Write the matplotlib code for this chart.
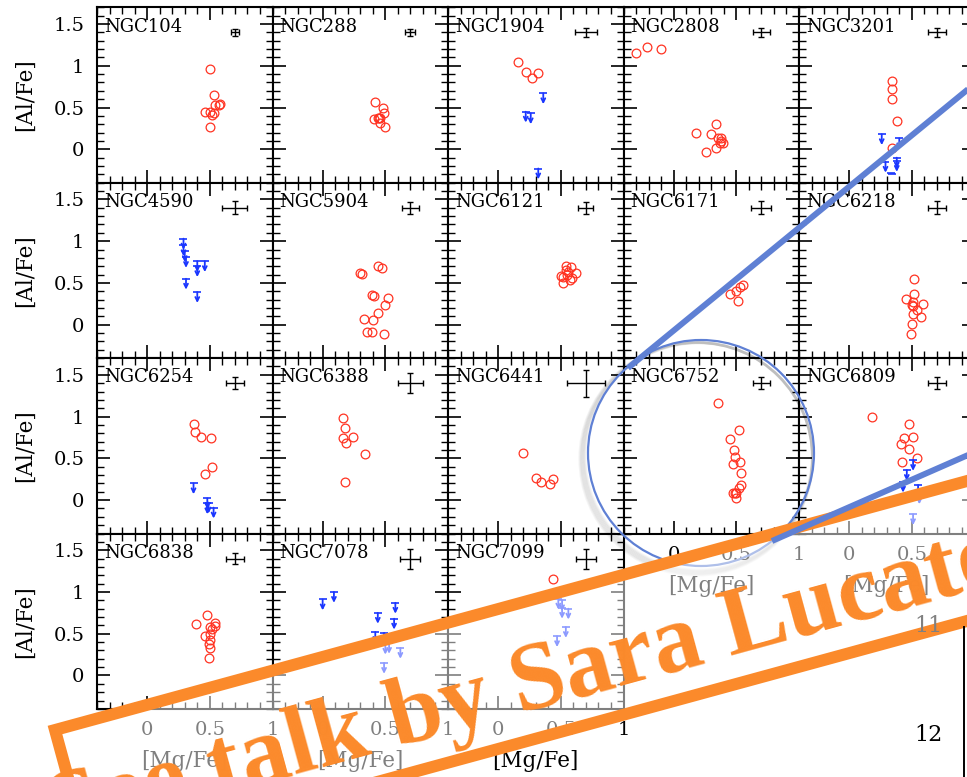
import numpy as np
import matplotlib.pyplot as plt
from matplotlib.patches import Circle, Polygon
from matplotlib.lines import Line2D
from matplotlib.transforms import Affine2D
from matplotlib.ticker import MultipleLocator, FuncFormatter

# === DATA ===
clusters = ["NGC104", "NGC288", "NGC1904", "NGC2808", "NGC3201",
            "NGC4590", "NGC5904", "NGC6121", "NGC6171", "NGC6218",
            "NGC6254", "NGC6388", "NGC6441", "NGC6752", "NGC6809",
            "NGC6838", "NGC7078", "NGC7099"]

# detections: [Mg/Fe], [Al/Fe]
mg_det = [
    [0.50, 0.53, 0.46, 0.50, 0.53, 0.54, 0.57, 0.58, 0.52, 0.50],
    [0.42, 0.48, 0.49, 0.41, 0.44, 0.46, 0.46, 0.50, 0.45],
    [0.16, 0.22, 0.27, 0.32],
    [-0.30, -0.21, -0.10, 0.18, 0.30, 0.34, 0.35, 0.38, 0.39, 0.38, 0.34, 0.26, 0.37],
    [0.34, 0.34, 0.34, 0.38, 0.34],
    [],
    [0.31, 0.30, 0.44, 0.47, 0.39, 0.41, 0.52, 0.50, 0.44, 0.33, 0.40, 0.35, 0.39, 0.49],
    [0.54, 0.58, 0.56, 0.62, 0.50, 0.52, 0.55, 0.59, 0.52, 0.57, 0.54],
    [0.45, 0.50, 0.55, 0.53, 0.51],
    [0.52, 0.52, 0.45, 0.51, 0.50, 0.59, 0.54, 0.57, 0.51, 0.50, 0.49, 0.51],
    [0.37, 0.38, 0.43, 0.51, 0.46, 0.52],
    [0.16, 0.18, 0.16, 0.24, 0.19, 0.34, 0.18],
    [0.20, 0.30, 0.34, 0.41, 0.44],
    [0.35, 0.52, 0.45, 0.48, 0.49, 0.53, 0.47, 0.54, 0.54, 0.52, 0.50, 0.47, 0.50, 0.49],
    [0.18, 0.48, 0.44, 0.51, 0.41, 0.48, 0.54, 0.42],
    [0.39, 0.48, 0.54, 0.46, 0.50, 0.52, 0.50, 0.54, 0.49, 0.50, 0.49, 0.50],
    [],
    [0.44],
]
al_det = [
    [0.96, 0.65, 0.45, 0.45, 0.43, 0.53, 0.53, 0.54, 0.41, 0.27],
    [0.57, 0.50, 0.44, 0.36, 0.37, 0.38, 0.31, 0.27, 0.38],
    [1.04, 0.93, 0.85, 0.91],
    [1.15, 1.23, 1.20, 0.19, 0.18, 0.30, 0.14, 0.10, 0.07, 0.13, 0.02, -0.03, 0.08],
    [0.82, 0.72, 0.60, 0.34, 0.02],
    [],
    [0.61, 0.62, 0.70, 0.68, 0.36, 0.34, 0.32, 0.24, 0.14, 0.07, 0.06, -0.09, -0.09, -0.11],
    [0.70, 0.69, 0.63, 0.62, 0.58, 0.57, 0.60, 0.56, 0.50, 0.54, 0.66],
    [0.37, 0.40, 0.48, 0.45, 0.28],
    [0.55, 0.37, 0.31, 0.27, 0.24, 0.25, 0.18, 0.09, 0.13, 0.01, -0.11, 0.22],
    [0.91, 0.81, 0.76, 0.74, 0.31, 0.40],
    [0.98, 0.86, 0.74, 0.76, 0.68, 0.55, 0.22],
    [0.56, 0.26, 0.22, 0.19, 0.25],
    [1.16, 0.84, 0.73, 0.60, 0.51, 0.46, 0.43, 0.33, 0.18, 0.14, 0.09, 0.08, 0.03, 0.08],
    [0.99, 0.91, 0.74, 0.76, 0.67, 0.61, 0.50, 0.46],
    [0.62, 0.72, 0.63, 0.47, 0.50, 0.56, 0.58, 0.59, 0.38, 0.33, 0.21, 0.42],
    [],
    [1.16],
]

# upper limits on [Al/Fe]
mg_lim = [
    [], [],
    [0.36, 0.22, 0.26, 0.32],
    [],
    [0.26, 0.40, 0.29, 0.38, 0.38, 0.33, 0.34],
    [0.29, 0.30, 0.29, 0.31, 0.40, 0.46, 0.40, 0.31, 0.40],
    [], [], [], [],
    [0.37, 0.48, 0.49, 0.53, 0.48],
    [], [], [],
    [0.51, 0.46, 0.43, 0.55, 0.56, 0.51],
    [],
    [0.00, 0.09, 0.44, 0.58, 0.57, 0.42, 0.49, 0.50, 0.62, 0.49, 0.53],
    [0.48, 0.51, 0.56, 0.54, 0.47, 0.51],
]
al_lim = [
    [], [],
    [0.67, 0.45, 0.43, -0.23],
    [],
    [0.18, 0.13, -0.15, -0.10, -0.14, -0.28, -0.29],
    [1.03, 0.88, 0.95, 0.81, 0.76, 0.76, 0.70, 0.55, 0.39],
    [], [], [], [],
    [0.20, 0.02, -0.03, -0.09, -0.04],
    [], [], [],
    [0.48, 0.36, 0.22, 0.18, 0.08, -0.17],
    [],
    [0.91, 1.00, 0.75, 0.87, 0.68, 0.52, 0.51, 0.38, 0.33, 0.15, 0.39],
    [0.92, 0.81, 0.80, 0.58, 0.47, 0.90],
]

# typical uncertainties, shown as a cross in each panel
err_mg = [0.03, 0.04, 0.09, 0.07, 0.07, 0.10, 0.07, 0.06, 0.08, 0.07,
          0.07, 0.10, 0.15, 0.07, 0.07, 0.07, 0.08, 0.08]
err_al = [0.04, 0.04, 0.05, 0.05, 0.05, 0.08, 0.07, 0.07, 0.08, 0.08,
          0.07, 0.12, 0.16, 0.07, 0.07, 0.07, 0.12, 0.12]

# === STYLE ===
RED = "#ff3322"
BLUE = "#1a36ff"
LINK = "#5f80d4"
ORANGE = "#fb8a2b"
FONT = "DejaVu Serif"
plt.rcParams["font.family"] = FONT

W_PX, H_PX = 967, 777
fig = plt.figure(figsize=(W_PX / 100, H_PX / 100), dpi=100)
fig.patch.set_facecolor("white")

LEFT, TOP, PW, PH = 97.0, 7.3, 175.5, 175.4
fmt = FuncFormatter(lambda v, p: "%g" % v)

for i, name in enumerate(clusters):
    r, c = divmod(i, 5)
    ax = fig.add_axes([(LEFT + c * PW) / W_PX, 1 - (TOP + (r + 1) * PH) / H_PX,
                       PW / W_PX, PH / H_PX])
    ax.set_xlim(-0.4, 1.0)
    ax.set_ylim(-0.4, 1.7)
    for s in ax.spines.values():
        s.set_linewidth(1.5)
    ax.xaxis.set_major_locator(MultipleLocator(0.5))
    ax.xaxis.set_minor_locator(MultipleLocator(0.1))
    ax.yaxis.set_major_locator(MultipleLocator(0.5))
    ax.yaxis.set_minor_locator(MultipleLocator(0.1))
    ax.tick_params(which="both", direction="in", top=True, right=True,
                   labelsize=14, pad=9)
    ax.tick_params(which="major", length=9.5, width=1.2)
    ax.tick_params(which="minor", length=5, width=1.0)
    ax.xaxis.set_major_formatter(fmt)
    ax.yaxis.set_major_formatter(fmt)

    bottom = r == 3 or (r == 2 and c >= 3)
    if bottom:
        ax.set_xlabel("[Mg/Fe]", fontsize=15.5)
        ax.xaxis.set_label_coords(0.5, -0.235)
    else:
        ax.tick_params(labelbottom=False)
    if c == 0:
        ax.set_ylabel("[Al/Fe]", fontsize=15.5)
        ax.yaxis.set_label_coords(-0.345, 0.5)
    else:
        ax.tick_params(labelleft=False)

    ax.text(0.04, 0.89, name, transform=ax.transAxes, fontsize=13,
            va="center", ha="left")

    # typical error cross
    ax.errorbar(0.7, 1.4, xerr=err_mg[i], yerr=err_al[i], color="k",
                lw=1.0, capsize=2.5, capthick=1.0)

    # detections
    ax.plot(mg_det[i], al_det[i], "o", ms=6.3, mfc="none", mec=RED, mew=0.9)

    # upper limits: bar cap plus downward arrow
    for x, y in zip(mg_lim[i], al_lim[i]):
        ax.plot([x], [y], marker="_", ms=6, mew=1.2, color=BLUE)
        ax.annotate("", xy=(x, y - 0.13), xytext=(x, y),
                    arrowprops=dict(arrowstyle="->", color=BLUE, lw=1.3,
                                    shrinkA=0, shrinkB=0, mutation_scale=7))

# === SLIDE OVERLAYS (pixel coordinates, origin top-left) ===
px = Affine2D().scale(1 / W_PX, -1 / H_PX).translate(0, 1) + fig.transFigure

# zoom circle with soft shadow
cx, cy, rad = 701, 453, 113
for k in range(1, 8):
    fig.add_artist(Circle((cx - 2 - 0.4 * k, cy + 3 + 0.4 * k), rad + 0.5 * k,
                          transform=px, fill=False, ec="k", lw=2.0,
                          alpha=0.04))
fig.add_artist(Circle((cx, cy), rad, transform=px, fill=False, ec=LINK, lw=1.6))

# connecting lines
fig.add_artist(Line2D([628, 1000], [368, 63], transform=px, color=LINK,
                      lw=4.3, solid_capstyle="butt"))
fig.add_artist(Line2D([772, 1000], [541, 441], transform=px, color=LINK,
                      lw=4.3, solid_capstyle="butt"))

# slide numbers
fig.add_artist(Line2D([964, 964], [627, 777], transform=px, color="k", lw=1.4))
fig.text(928, 626, "11", transform=px, fontsize=16, color="#808080",
         ha="center", va="center")
fig.text(928, 735, "12", transform=px, fontsize=16, color="k",
         ha="center", va="center")

# banner
ang = np.arctan(0.273)
u = np.array([np.cos(ang), -np.sin(ang)])
n = np.array([np.sin(ang), np.cos(ang)])
p0 = np.array([55.0, 730.0])
blen, bth = 1400.0, 135.0
corners = [p0, p0 + blen * u, p0 + blen * u + bth * n, p0 + bth * n]
fig.add_artist(Polygon(corners, closed=True, transform=px,
                       fc=(1, 1, 1, 0.5), ec=ORANGE, lw=8.6))
fig.text(57, 840, "See talk by Sara Lucatello", transform=px,
         rotation=np.degrees(ang), rotation_mode="anchor", ha="left",
         va="baseline", fontsize=70, fontweight="bold", color=ORANGE,
         family="Liberation Serif")

fig.savefig("out.png", dpi=100, facecolor="white")
